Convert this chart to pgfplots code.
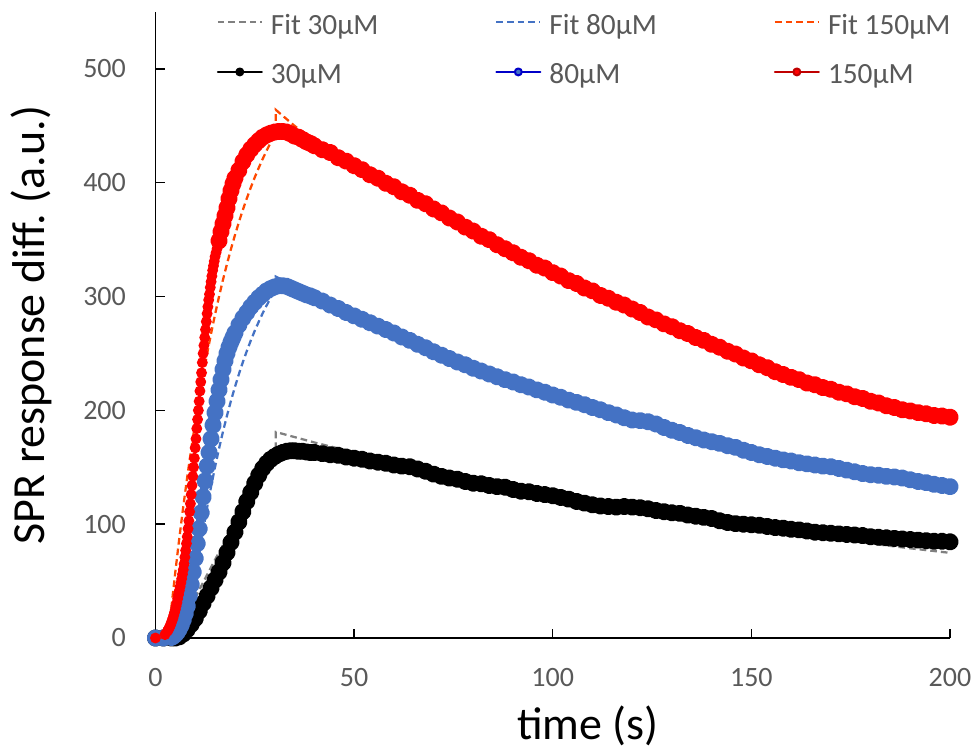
\documentclass[border=0pt]{standalone}
\usepackage{fontspec}
\setmainfont{Carlito}
\usepackage{pgfplots}
\pgfplotsset{compat=1.18}
\frenchspacing

\definecolor{tickgray}{RGB}{89,89,89}
\definecolor{fitgray}{RGB}{128,128,128}
\definecolor{fitblue}{RGB}{68,114,196}
\definecolor{fitred}{RGB}{255,72,0}
\definecolor{datblue}{RGB}{68,114,196}
\definecolor{datred}{RGB}{255,0,0}
\definecolor{legblue}{RGB}{0,0,200}
\definecolor{legred}{RGB}{192,0,0}

% fixed-size legend text cell
\newcommand{\legtext}[1]{\makebox[168.2bp][l]{#1}}

\begin{document}
\begin{tikzpicture}
% page frame around the axis box (axis box lower-left at the origin)
\useasboundingbox (-116.6bp,-83.25bp) rectangle (615.4bp,478.5bp);
\begin{axis}[
  name=ax,
  scale only axis,
  width=595.9bp, height=469.5bp,
  xmin=0, xmax=200, ymin=0, ymax=550,
  enlargelimits=false,
  clip=false,
  axis lines=left,
  axis line style={-, black, line width=1.1bp},
  tick align=inside,
  major tick length=7bp,
  tick style={black, line width=1.1bp},
  xtick={0,50,100,150,200},
  ytick={0,100,200,300,400,500},
  /pgf/number format/assume math mode=true,
  ticklabel style={font=\fontsize{21bp}{25bp}\selectfont, text=tickgray},
  xticklabel style={anchor=north, inner sep=0pt, yshift=-22.5bp},
  yticklabel style={anchor=east, inner sep=0pt, xshift=-22bp},
  xlabel={time (s)},
  ylabel={SPR response diff. (a.u.)},
  xlabel style={at={(axis description cs:0.5444,-0.16134)}, anchor=base,
                font=\fontsize{34.5bp}{40bp}\selectfont, inner sep=0pt},
  ylabel style={at={(axis description cs:-0.13912,0.5)}, anchor=base,
                font=\fontsize{34.5bp}{40bp}\selectfont, inner sep=0pt},
  legend columns=3,
  legend cell align=left,
  legend image code/.code={\draw[#1] (0bp,0bp) -- (33bp,0bp); \path (36.75bp,0bp);},
  legend style={
    at={(rel axis cs:0,1)}, anchor=north west, xshift=45.9bp, yshift=2.5bp,
    draw=none, fill=none, inner sep=0pt, outer sep=0pt,
    font=\fontsize{22bp}{26bp}\selectfont,
    /tikz/column sep=0pt, /tikz/row sep=16.7bp,
    nodes={inner sep=0pt, outer sep=0pt, text=tickgray},
    /tikz/every even column/.append style={text height=19bp, text depth=0bp},
  },
  fit/.style={line width=1.7bp, dash pattern=on 5bp off 3bp},
  data/.style={line width=6.2bp, line join=round, line cap=round, mark=*, mark size=3.4bp},
]

% ---- kinetic fits (association, then dissociation) ----
\addplot[fit, color=fitgray] coordinates {
(0,0) (5,0) (7,14.3) (10,35.3) (12,48.9) (15,68.8) (18,88.1) (20,100.7) (22,113) (25,131.1) (28,148.6) (30.3,161.7)
(30.3,181) (40,171.8) (50,163.1) (60,154.9) (70,147) (80,139.6) (90,132.5) (100,125.8) (110,119.4) (120,113.4)
(130,107.6) (140,102.2) (150,97) (160,92.1) (170,87.4) (180,83) (190,78.8) (200,74.8)
};
\addlegendentry{\legtext{Fit 30µM}}

\addplot[fit, color=fitblue] coordinates {
(0,0) (8,0) (9,26.2) (10,50.7) (11,73.5) (12,94.7) (13,114.6) (14,133.1) (15,150.3) (16,166.4) (17,181.4) (18,195.3)
(19,208.4) (20,220.5) (21,231.8) (22,242.4) (23,252.2) (24,261.4) (25,270) (26,277.9) (27,285.4) (28,292.3) (29,298.8) (30.3,306.6)
(30.3,317.5) (35,309.5) (40,302) (45,294.5) (50,287) (60,272) (70,255) (80,241) (90,228) (100,216) (110,205) (120,195)
(130,185) (140,176) (150,167.5) (160,159.5) (170,152) (180,145) (190,138.5) (200,132.5)
};
\addlegendentry{\legtext{Fit 80µM}}

\addplot[fit, color=fitred] coordinates {
(0,0) (3.2,0) (4,26.6) (5,58.1) (6,87.6) (7,115.4) (8,141.5) (9,165.9) (10,188.9) (11,210.4) (12,230.7) (13,249.6)
(14,267.5) (15,284.3) (16,300) (17,314.8) (18,328.6) (19,341.7) (20,353.9) (21,365.4) (22,376.2) (23,386.3) (24,395.8)
(25,404.8) (26,413.1) (27,421) (28,428.4) (29,435.3) (30.3,443.7)
(30.3,464) (35,450) (40,437) (45,424.5) (50,413) (60,393) (70,375) (80,357.5) (90,339.5) (100,322) (110,305.5)
(120,290) (130,274.5) (140,259.5) (150,245) (160,231.5) (170,219.5) (180,208.5) (190,199.5) (200,192)
};
\addlegendentry{\legtext{Fit 150µM}}

% ---- measured SPR responses ----
\addplot[data, color=black, mark options={fill=black, draw=none},
  legend image code/.code={\draw[black, line width=1.5bp, mark=*, mark repeat=2, mark phase=2, mark size=2.6bp, mark options={fill=black, draw=none}] plot coordinates {(0bp,0bp) (16.5bp,0bp) (33bp,0bp)}; \path (36.75bp,0bp);}]
coordinates {
(0,0) (2,0) (4,0) (5,0) (6,1) (7,3.5) (8,7.5) (9,12) (10,17) (11,23.5) (12,30.5) (13,37) (14,44) (15,51) (16,58)
(17,66) (18,75) (19,84) (20,93) (21,102) (22,111) (23,120) (24,128) (25,136) (26,143) (27,149) (28,153.5) (29,157)
(30,159.5) (31,161.5) (32,163) (33,164) (34,164.5) (35,164.5) (36,164) (37,164) (38,163.5) (39,163) (40,163)
(42,162) (44,161) (46,160.5) (48,159) (50,158) (52,157) (54,155.5) (56,154.5) (58,153.5) (60,152) (62,151) (64,150.5)
(66,148.5) (68,146.5) (70,144) (72,142) (74,140.5) (76,139.5) (78,137.5) (80,136) (82,135.5) (84,134) (86,133)
(88,132.5) (90,130.5) (92,129) (94,128.5) (96,127) (98,126) (100,125) (102,123.5) (104,122) (106,120) (108,118.5)
(110,117) (112,116) (114,115.5) (116,115) (118,115.5) (120,115) (122,114.5) (124,113.5) (126,112) (128,111)
(130,110) (132,109.5) (134,108) (136,107) (138,106) (140,105) (142,103) (144,101.5) (146,100.5) (148,100) (150,99.5)
(152,99) (154,98) (156,97) (158,96.5) (160,95.5) (162,95) (164,94) (166,93) (168,92.5) (170,92) (172,91.5) (174,91)
(176,90.5) (178,90) (180,89) (182,88.5) (184,88) (186,87.5) (188,87) (190,86.5) (192,86) (194,85.5) (196,85)
(198,85) (200,84.5)
};
\addlegendentry{\legtext{30µM}}

\addplot[data, color=datblue, mark options={fill=datblue, draw=none},
  legend image code/.code={\draw[legblue, line width=1.5bp, mark=*, mark repeat=2, mark phase=2, mark size=2.6bp, mark options={fill=datblue, draw=none}] plot coordinates {(0bp,0bp) (16.5bp,0bp) (33bp,0bp)}; \path (36.75bp,0bp);}]
coordinates {
(0,0) (2,0) (4,0.5) (4.5,1.5) (5,3) (5.5,5) (6,8) (6.5,11.5) (7,16) (7.5,21.5) (8,28) (8.5,37) (9,47) (9.5,58)
(10,70) (10.5,83) (11,96) (11.5,110) (12,124) (12.5,138) (13,151) (13.5,163) (14,175) (14.5,187) (15,198)
(15.5,208) (16,218) (16.5,227) (17,236) (17.5,243.5) (18,250) (18.5,255.5) (19,260) (19.5,264) (20,268) (21,275)
(22,281) (23,286) (24,291) (25,295) (26,299) (27,302) (28,305) (29,307) (30,308.5) (31,309.5) (32,309.5) (33,309)
(34,307.5) (35,306) (36,304.5) (37,303) (38,301.5) (39,300.5) (40,299)
(42,296) (44,292.5) (46,289.5) (48,286) (50,283) (52,280) (54,277) (56,274) (58,271) (60,268) (62,264.5) (64,261.5)
(66,258) (68,255) (70,251.5) (72,248.5) (74,245.5) (76,242.5) (78,240) (80,237) (82,234.5) (84,232) (86,229.5)
(88,227) (90,225) (92,222.5) (94,220.5) (96,218) (98,216) (100,213.5) (102,211.5) (104,209) (106,207) (108,205)
(110,202.5) (112,200.5) (114,198) (116,196) (118,193.5) (120,191.5) (122,191) (124,190) (126,188) (128,185)
(130,182.5) (132,180.5) (134,178) (136,176) (138,174) (140,172.5) (142,171) (144,169) (146,167.5) (148,165)
(150,163) (152,161) (154,159.5) (156,158) (158,156.5) (160,155.5) (162,154) (164,153) (166,152) (168,151)
(170,150.5) (172,149) (174,147.5) (176,146) (178,144.5) (180,143.5) (182,143) (184,142) (186,141.5) (188,140.5)
(190,139) (192,137.5) (194,136.5) (196,135) (198,134) (200,133)
};
\addlegendentry{\legtext{80µM}}

% steep association of the 150 uM trace: dense samples, thin line
\addplot[forget plot, color=datred, line width=1.5bp, mark=*, mark size=3.3bp, mark options={fill=datred, draw=none}]
coordinates {
(0,0) (2.4,3) (3.0,6) (3.2,7) (3.4,8.5) (3.6,10) (3.8,11.5) (4.0,13.5) (4.2,15.5) (4.4,17.5) (4.6,20) (4.8,22.5)
(5.0,25) (5.2,28) (5.4,31) (5.6,34.5) (5.8,38) (6.0,41.5) (6.2,45) (6.4,48.5) (6.6,52) (6.8,56) (7.0,60) (7.2,65)
(7.4,71) (7.6,77) (7.8,83) (8.0,89) (8.2,96) (8.4,103) (8.6,111) (8.8,118) (9.0,126) (9.2,134) (9.4,142) (9.6,150)
(9.8,158) (10.0,167) (10.2,175) (10.4,184) (10.6,192) (10.8,200) (11.0,208) (11.2,217) (11.4,225) (11.6,233)
(11.8,242) (12.0,250) (12.2,257) (12.4,264) (12.6,271) (12.8,278) (13.0,285) (13.2,291) (13.4,297) (13.6,302)
(13.8,308) (14.0,313) (14.2,318) (14.4,323) (14.6,327) (14.8,331) (15.0,335) (15.25,338.5) (15.5,342)
(15.75,345.5) (16.0,349)
};

\addplot[data, color=datred, mark options={fill=datred, draw=none},
  legend image code/.code={\draw[legred, line width=1.5bp, mark=*, mark repeat=2, mark phase=2, mark size=2.6bp, mark options={fill=datred, draw=none}] plot coordinates {(0bp,0bp) (16.5bp,0bp) (33bp,0bp)}; \path (36.75bp,0bp);}]
coordinates {
(16.0,349) (16.5,357) (17.0,364) (17.5,371) (18.0,378) (18.5,386) (19.0,393) (19.5,399) (20.0,404) (21,411) (22,418.5) (23,424.5)
(24,429.5) (25,433.5) (26,437) (27,440) (28,442) (29,443.5) (30,444.5) (31,445) (32,445) (33,444.5) (34,443)
(35,441) (36,440) (37,438) (38,436) (39,434.5) (40,432.5)
(42,429) (44,426.5) (46,422) (48,419) (50,415) (52,411.5) (54,407) (56,404) (58,399.5) (60,396.5) (62,392) (64,389)
(66,384.5) (68,381.5) (70,377) (72,373.5) (74,369) (76,365.5) (78,361) (80,357.5) (82,353) (84,350) (86,345.5)
(88,342) (90,338.5) (92,334.5) (94,331.5) (96,327.5) (98,325) (100,321) (102,318) (104,314) (106,311.5) (108,307.5)
(110,305) (112,301) (114,298.5) (116,295) (118,292.5) (120,289) (122,286) (124,282) (126,279.5) (128,276)
(130,273.5) (132,270) (134,267.5) (136,264) (138,261.5) (140,258) (142,255.5) (144,252) (146,249.5) (148,246)
(150,243.5) (152,240) (154,237.5) (156,234) (158,231.5) (160,229) (162,227) (164,224) (166,222.5) (168,220)
(170,218.5) (172,216) (174,214.5) (176,212) (178,210.5) (180,208) (182,206.5) (184,204) (186,202.5) (188,200.5)
(190,199.5) (192,198) (194,197) (196,195.5) (198,195) (200,194)
};
\addlegendentry{\legtext{150µM}}

\end{axis}
\end{tikzpicture}
\end{document}
